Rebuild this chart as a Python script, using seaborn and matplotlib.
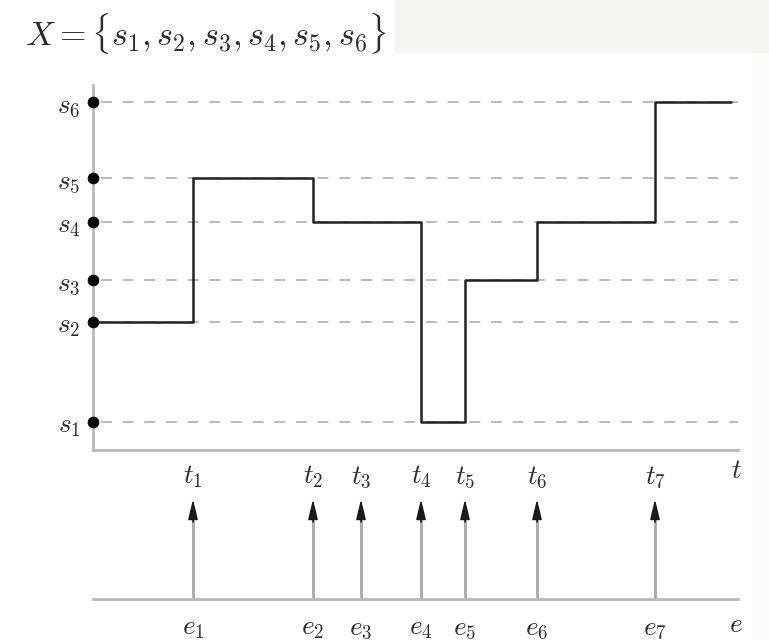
import matplotlib
matplotlib.use("Agg")
import matplotlib.pyplot as plt
import matplotlib.patches as mpatches
import numpy as np
import pandas as pd
import seaborn as sns

# State levels s1..s6 (vertical positions on the state axis)
state_names = [r"$s_1$", r"$s_2$", r"$s_3$", r"$s_4$", r"$s_5$", r"$s_6$"]
state_levels = [0.7, 3.2, 4.25, 5.7, 6.8, 8.7]

# Event times t1..t7 and the labels for time axis / event axis
event_times = [2.5, 5.5, 6.7, 8.2, 9.3, 11.1, 14.05]
time_labels = [r"$t_1$", r"$t_2$", r"$t_3$", r"$t_4$", r"$t_5$", r"$t_6$", r"$t_7$"]
event_labels = [r"$e_1$", r"$e_2$", r"$e_3$", r"$e_4$", r"$e_5$", r"$e_6$", r"$e_7$"]

# Piecewise-constant trajectory: start time of each segment and its state index
segment_starts = [0.0, 2.5, 5.5, 6.7, 8.2, 9.3, 11.1, 14.05, 15.95]
segment_states = [2, 5, 4, 4, 1, 3, 4, 6, 6]

T_MAX = 16.125
Y_MAX = 9.125

sns.set_theme(style="white")
plt.rcParams["mathtext.fontset"] = "cm"
plt.rcParams["font.family"] = ["DejaVu Serif"]

AXIS_GRAY = "#b9b9b9"
DASH_GRAY = "#b4b4b4"
TEXT = "#2b2b2b"
LABEL_SIZE = 19.5

W, H = 769, 640
fig = plt.figure(figsize=(W / 100, H / 100), dpi=100)

def fbox(x0, y0, x1, y1):
    """Figure-fraction box from pixel edges (top-left origin)."""
    return [x0 / W, 1 - y1 / H, (x1 - x0) / W, (y1 - y0) / H]

# light page band behind the formula at top right, and right margin
fig.patches.append(mpatches.Rectangle((395 / W, 1 - 53 / H), 1, 53 / H,
                                      transform=fig.transFigure,
                                      facecolor="#f5f5f1", edgecolor="none", zorder=0))
fig.patches.append(mpatches.Rectangle((752 / W, 0), 1, 1 - 53 / H,
                                      transform=fig.transFigure,
                                      facecolor="#fbfbfa", edgecolor="none", zorder=0))

# ---- state trajectory panel ----
ax = fig.add_axes(fbox(93, 85, 738, 450))
ax.set_facecolor("none")
ax.set_xlim(0, T_MAX)
ax.set_ylim(0, Y_MAX)

# dashed reference lines for each state level
for lv in state_levels:
    ax.plot([0.2, T_MAX], [lv, lv], color=DASH_GRAY, lw=1.3,
            dashes=(6, 6), zorder=1)

traj = pd.DataFrame({
    "t": segment_starts,
    "x": [state_levels[s - 1] for s in segment_states],
})
sns.lineplot(data=traj, x="t", y="x", ax=ax, drawstyle="steps-post",
             color="#222222", lw=1.8, zorder=3)

# state dots on the vertical axis
dots = pd.DataFrame({"t": [0.0] * len(state_levels), "x": state_levels})
sns.scatterplot(data=dots, x="t", y="x", ax=ax, color="black", s=60,
                edgecolor="black", clip_on=False, zorder=5)

for sp in ("top", "right"):
    ax.spines[sp].set_visible(False)
for sp in ("left", "bottom"):
    ax.spines[sp].set_color(AXIS_GRAY)
    ax.spines[sp].set_linewidth(2)

ax.set_xticks(event_times)
ax.set_xticklabels(time_labels)
ax.set_yticks(state_levels)
ax.set_yticklabels(state_names)
ax.tick_params(axis="x", direction="inout", length=8, width=1, color=AXIS_GRAY,
               labelsize=LABEL_SIZE, labelcolor=TEXT, pad=5)
ax.tick_params(axis="y", length=0, labelsize=LABEL_SIZE, labelcolor=TEXT, pad=9)
ax.set_xlabel("")
ax.set_ylabel("")
ax.text(T_MAX - 0.05, -0.5, r"$t$", fontsize=LABEL_SIZE, color=TEXT,
        ha="center", va="center")

# ---- event panel ----
ev = fig.add_axes(fbox(93, 495, 738, 599))
ev.set_facecolor("none")
ev.set_xlim(0, T_MAX)
ev.set_ylim(0, 1)
for sp in ("top", "right", "left"):
    ev.spines[sp].set_visible(False)
ev.spines["bottom"].set_color(AXIS_GRAY)
ev.spines["bottom"].set_linewidth(2)
ev.set_yticks([])
ev.set_xticks(event_times)
ev.set_xticklabels(event_labels)
ev.tick_params(axis="x", length=0, labelsize=LABEL_SIZE, labelcolor=TEXT, pad=11)

for t in event_times:
    ev.vlines(t, 0, 0.78, color="#a8a8a8", lw=2, zorder=2)
    ev.annotate("", xy=(t, 0.96), xytext=(t, 0.74),
                arrowprops=dict(arrowstyle="-|>,head_length=1.0,head_width=0.24",
                                color="#1a1a1a", lw=1.2, shrinkA=0, shrinkB=0))
ev.text(T_MAX - 0.05, -0.32, r"$e$", fontsize=LABEL_SIZE, color=TEXT,
        ha="center", va="baseline")

# ---- set definition ----
fig.text(25 / W, 1 - 33 / H,
         r"$X = \{s_1, s_2, s_3, s_4, s_5, s_6\}$",
         fontsize=24.5, color=TEXT, ha="left", va="center")

fig.savefig("out.png", dpi=100)
